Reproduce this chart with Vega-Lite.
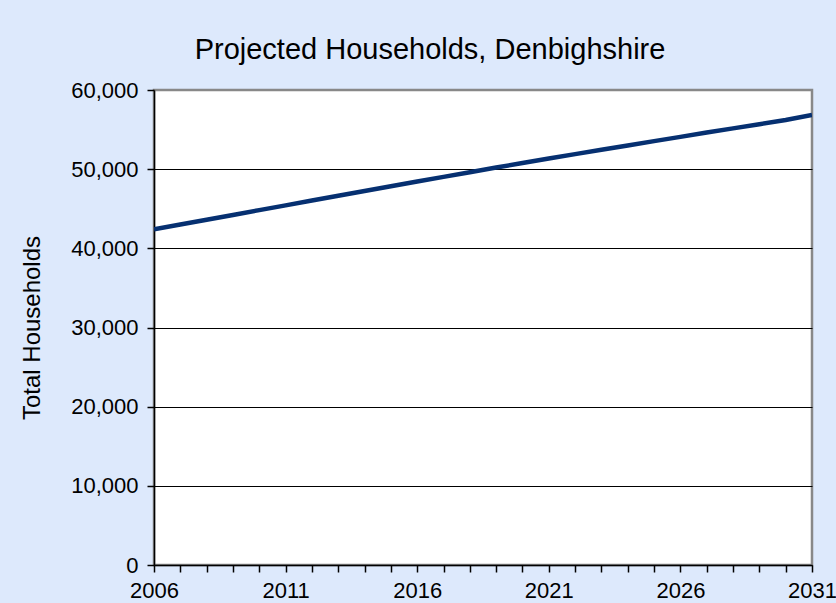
{
  "$schema": "https://vega.github.io/schema/vega-lite/v6.json",
  "width": 658,
  "height": 475,
  "autosize": {"type": "none"},
  "padding": {"left": 154, "top": 90, "right": 24, "bottom": 38},
  "background": "#dde9fc",
  "title": {
    "text": "Projected Households, Denbighshire",
    "font": "Liberation Sans",
    "fontSize": 29,
    "fontWeight": "normal",
    "color": "#000000",
    "anchor": "middle",
    "frame": "group",
    "baseline": "alphabetic",
    "dx": -53,
    "dy": 31,
    "offset": 22
  },
  "data": {
    "values": [
      {"year": 2006, "households": 42400},
      {"year": 2007, "households": 43000},
      {"year": 2008, "households": 43610},
      {"year": 2009, "households": 44220},
      {"year": 2010, "households": 44830},
      {"year": 2011, "households": 45430},
      {"year": 2012, "households": 46040},
      {"year": 2013, "households": 46640},
      {"year": 2014, "households": 47240},
      {"year": 2015, "households": 47840},
      {"year": 2016, "households": 48440},
      {"year": 2017, "households": 49030},
      {"year": 2018, "households": 49620},
      {"year": 2019, "households": 50200},
      {"year": 2020, "households": 50770},
      {"year": 2021, "households": 51340},
      {"year": 2022, "households": 51900},
      {"year": 2023, "households": 52450},
      {"year": 2024, "households": 53000},
      {"year": 2025, "households": 53540},
      {"year": 2026, "households": 54080},
      {"year": 2027, "households": 54620},
      {"year": 2028, "households": 55150},
      {"year": 2029, "households": 55680},
      {"year": 2030, "households": 56200},
      {"year": 2031, "households": 56850}
    ]
  },
  "mark": {"type": "line", "color": "#063071", "strokeWidth": 4.5, "strokeCap": "butt", "clip": true},
  "encoding": {
    "x": {
      "field": "year",
      "type": "quantitative",
      "scale": {"domain": [2006, 2031], "nice": false, "zero": false},
      "axis": {
        "title": null,
        "values": [2006, 2007, 2008, 2009, 2010, 2011, 2012, 2013, 2014, 2015, 2016, 2017, 2018, 2019, 2020, 2021, 2022, 2023, 2024, 2025, 2026, 2027, 2028, 2029, 2030, 2031],
        "labelExpr": "(datum.value - 2006) % 5 === 0 ? '' + datum.value : ''",
        "grid": false,
        "domainColor": "#000000",
        "domainWidth": 1.5,
        "tickColor": "#000000",
        "tickWidth": 1.5,
        "tickSize": 7,
        "labelPadding": 8,
        "labelFont": "Liberation Sans",
        "labelFontSize": 22,
        "labelColor": "#000000",
        "labelFlush": false,
        "labelOverlap": false,
        "labelBound": false
      }
    },
    "y": {
      "field": "households",
      "type": "quantitative",
      "scale": {"domain": [0, 60000], "nice": false},
      "axis": {
        "title": "Total Households",
        "titleFont": "Liberation Sans",
        "titleFontSize": 24,
        "titleFontWeight": "normal",
        "titleColor": "#000000",
        "titlePadding": 26,
        "values": [0, 10000, 20000, 30000, 40000, 50000, 60000],
        "format": ",d",
        "grid": true,
        "gridColor": "#000000",
        "gridWidth": 1,
        "gridOpacity": {"condition": {"test": "datum.value >= 60000", "value": 0}, "value": 1},
        "domainColor": "#000000",
        "domainWidth": 1.5,
        "tickColor": "#000000",
        "tickWidth": 1.5,
        "tickSize": 7,
        "labelPadding": 9,
        "labelFont": "Liberation Sans",
        "labelFontSize": 22,
        "labelColor": "#000000"
      }
    }
  },
  "config": {
    "view": {"fill": "#ffffff", "stroke": "#888888", "strokeWidth": 2.5}
  }
}
